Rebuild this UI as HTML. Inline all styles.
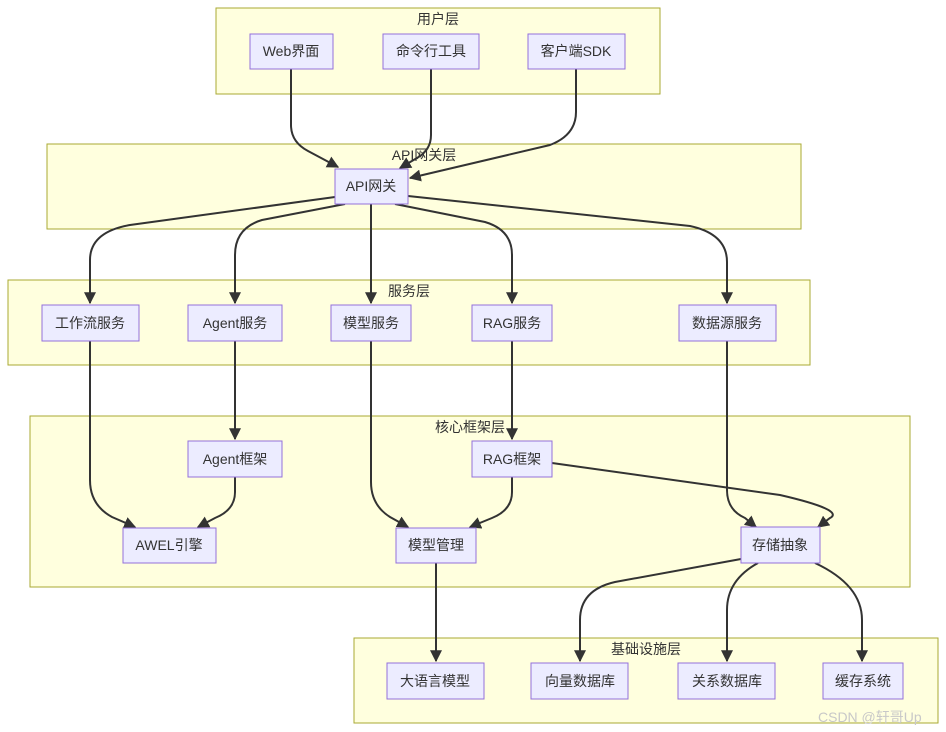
<!DOCTYPE html>
<html><head><meta charset="utf-8"><style>
html,body{margin:0;padding:0;background:#fff;width:946px;height:732px;overflow:hidden}
svg text{font-family:"Liberation Sans","Noto Sans CJK SC",sans-serif;font-size:14px;fill:#333}
.sg{fill:#ffffde;stroke:#aaaa33;stroke-width:1}
.n{fill:#ececff;stroke:#9370db;stroke-width:1}
.e{fill:none;stroke:#333;stroke-width:2}
</style></head><body>
<svg width="946" height="732" viewBox="0 0 946 732" xmlns="http://www.w3.org/2000/svg">
<defs><marker id="a" viewBox="0 0 10 10" refX="9" refY="5" markerWidth="6" markerHeight="6" orient="auto-start-reverse" markerUnits="strokeWidth"><path d="M0,0L10,5L0,10z" fill="#333"/></marker></defs>
<rect class="sg" x="216" y="8" width="444" height="86"/>
<rect class="sg" x="47" y="144" width="754" height="85"/>
<rect class="sg" x="8" y="280" width="802" height="85"/>
<rect class="sg" x="30" y="416" width="880" height="171"/>
<rect class="sg" x="354" y="638" width="584" height="85"/>
<g text-anchor="middle">
<text x="438" y="24">用户层</text>
<text x="424" y="160">API网关层</text>
<text x="409" y="296">服务层</text>
<text x="470" y="432">核心框架层</text>
<text x="646" y="654">基础设施层</text>
</g>
<g class="e" marker-end="url(#a)">
<path d="M291,69 L291,125 Q291,142 308,151 L338,167"/>
<path d="M431,69 L431,135 Q431,150 417,158 L400,168"/>
<path d="M576,69 L576,112 Q576,135 550,145 L410,178"/>
<path d="M335,197 L130,225 Q90,232 90,260 L90,303"/>
<path d="M345,204 L262,220 Q235,228 235,255 L235,303"/>
<path d="M371,204 L371,303"/>
<path d="M395,204 L485,222 Q512,230 512,255 L512,303"/>
<path d="M408,196 L690,226 Q727,234 727,262 L727,303"/>
<path d="M90,341 L90,480 Q90,505 112,517 L135,527"/>
<path d="M235,341 L235,439"/>
<path d="M235,477 L235,492 Q235,510 215,518 L198,527"/>
<path d="M371,341 L371,482 Q371,505 390,517 L408,527"/>
<path d="M512,341 L512,439"/>
<path d="M512,477 L512,492 Q512,510 492,518 L470,527"/>
<path d="M552,463 L780,495 Q845,510 830,518 L818,527"/>
<path d="M727,341 L727,490 Q727,510 745,518 L756,527"/>
<path d="M741,559 L615,582 Q580,590 580,620 L580,661"/>
<path d="M758,563 Q727,580 727,610 L727,661"/>
<path d="M815,563 Q862,585 862,620 L862,661"/>
<path d="M436,563 L436,661"/>
</g>
<g>
<rect class="n" x="250" y="34" width="83" height="35"/>
<rect class="n" x="383" y="34" width="96" height="35"/>
<rect class="n" x="528" y="34" width="97" height="35"/>
<rect class="n" x="335" y="169" width="73" height="35"/>
<rect class="n" x="42" y="305" width="97" height="36"/>
<rect class="n" x="188" y="305" width="94" height="36"/>
<rect class="n" x="331" y="305" width="80" height="36"/>
<rect class="n" x="472" y="305" width="80" height="36"/>
<rect class="n" x="679" y="305" width="97" height="36"/>
<rect class="n" x="188" y="441" width="94" height="36"/>
<rect class="n" x="472" y="441" width="80" height="36"/>
<rect class="n" x="123" y="528" width="93" height="35"/>
<rect class="n" x="396" y="528" width="80" height="35"/>
<rect class="n" x="741" y="527" width="79" height="36"/>
<rect class="n" x="387" y="663" width="97" height="36"/>
<rect class="n" x="531" y="663" width="97" height="36"/>
<rect class="n" x="678" y="663" width="97" height="36"/>
<rect class="n" x="823" y="663" width="80" height="36"/>
</g>
<g text-anchor="middle">
<text x="291" y="56">Web界面</text>
<text x="431" y="56">命令行工具</text>
<text x="576" y="56">客户端SDK</text>
<text x="371" y="191">API网关</text>
<text x="90" y="328">工作流服务</text>
<text x="235" y="328">Agent服务</text>
<text x="371" y="328">模型服务</text>
<text x="512" y="328">RAG服务</text>
<text x="727" y="328">数据源服务</text>
<text x="235" y="464">Agent框架</text>
<text x="512" y="464">RAG框架</text>
<text x="169" y="550">AWEL引擎</text>
<text x="436" y="550">模型管理</text>
<text x="780" y="550">存储抽象</text>
<text x="435" y="686">大语言模型</text>
<text x="580" y="686">向量数据库</text>
<text x="727" y="686">关系数据库</text>
<text x="863" y="686">缓存系统</text>
</g>
<text x="818" y="722" style="fill:#c8c8c8;font-size:14px">CSDN @轩哥Up</text>
</svg>
</body></html>
